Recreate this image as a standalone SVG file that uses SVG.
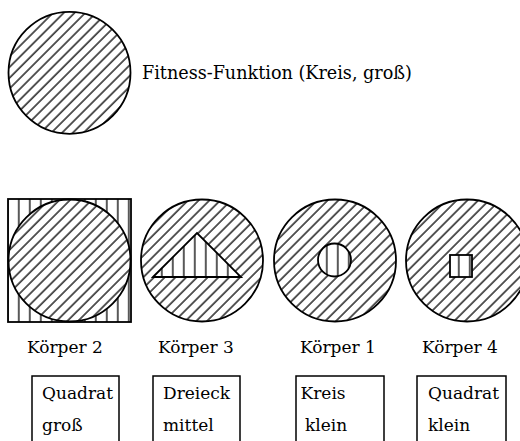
<svg xmlns="http://www.w3.org/2000/svg" width="520" height="441" viewBox="0 0 520 441">
  <style>
    .outline { stroke: #000; stroke-width: 1.8; }
    .diag { fill: url(#diagHatch); }
    .vert { fill: url(#vertHatch); }
    .box { fill: none; stroke: #000; stroke-width: 1.5; }
  </style>
  <defs>
    <!-- 45° "/" hatching -->
    <pattern id="diagHatch" patternUnits="userSpaceOnUse" width="7.6" height="10" patternTransform="rotate(45)">
      <rect width="7.6" height="10" fill="#fff"/>
      <line x1="1" y1="0" x2="1" y2="10" stroke="#000" stroke-width="1.3"/>
    </pattern>
    <!-- vertical hatching -->
    <pattern id="vertHatch" patternUnits="userSpaceOnUse" x="6.8" width="11" height="10">
      <rect width="11" height="10" fill="#fff"/>
      <line x1="1" y1="0" x2="1" y2="10" stroke="#000" stroke-width="1.3"/>
    </pattern>
  </defs>

  <rect width="520" height="441" fill="#fff"/>

  <g font-family="'DejaVu Serif', serif" font-size="17" fill="#000">
  <!-- fitness function: big circle -->
  <g id="fitness">
    <circle class="outline diag" cx="69.5" cy="72.8" r="61"/>
    <text x="142" y="79" font-size="17.6">Fitness-Funktion (Kreis, groß)</text>
  </g>

  <!-- body 2: large square -->
  <g id="koerper2">
    <rect class="outline vert" x="8" y="199" width="123" height="123"/>
    <circle class="outline diag" cx="69.5" cy="260.5" r="61"/>
    <text x="27" y="353">Körper 2</text>
  </g>

  <!-- body 3: medium triangle -->
  <g id="koerper3">
    <circle class="outline diag" cx="202" cy="260.5" r="61"/>
    <polygon class="outline vert" points="153,277 197,233 241,277"/>
    <text x="158" y="353">Körper 3</text>
  </g>

  <!-- body 1: small circle -->
  <g id="koerper1">
    <circle class="outline diag" cx="335" cy="260.5" r="61"/>
    <circle class="outline vert" cx="334.5" cy="260" r="16.5"/>
    <text x="300" y="353">Körper 1</text>
  </g>

  <!-- body 4: small square -->
  <g id="koerper4">
    <circle class="outline diag" cx="467" cy="260.5" r="61"/>
    <rect class="outline vert" x="450" y="255" width="22" height="22"/>
    <text x="422" y="353">Körper 4</text>
  </g>

  <!-- property boxes -->
  <g id="box-koerper2">
    <polyline class="box" points="32,442 32,376 119,376 119,442"/>
    <text x="42" y="399">Quadrat</text>
    <text x="42" y="431">groß</text>
  </g>
  <g id="box-koerper3">
    <polyline class="box" points="153,442 153,376 240,376 240,442"/>
    <text x="163" y="399">Dreieck</text>
    <text x="163" y="431">mittel</text>
  </g>
  <g id="box-koerper1">
    <polyline class="box" points="296,442 296,376 384,376 384,442"/>
    <text x="300.5" y="399">Kreis</text>
    <text x="305" y="431">klein</text>
  </g>
  <g id="box-koerper4">
    <polyline class="box" points="417,442 417,376 506,376 506,442"/>
    <text x="428" y="399">Quadrat</text>
    <text x="428" y="431">klein</text>
  </g>
  </g>

  <g id="connectors"/>
</svg>
